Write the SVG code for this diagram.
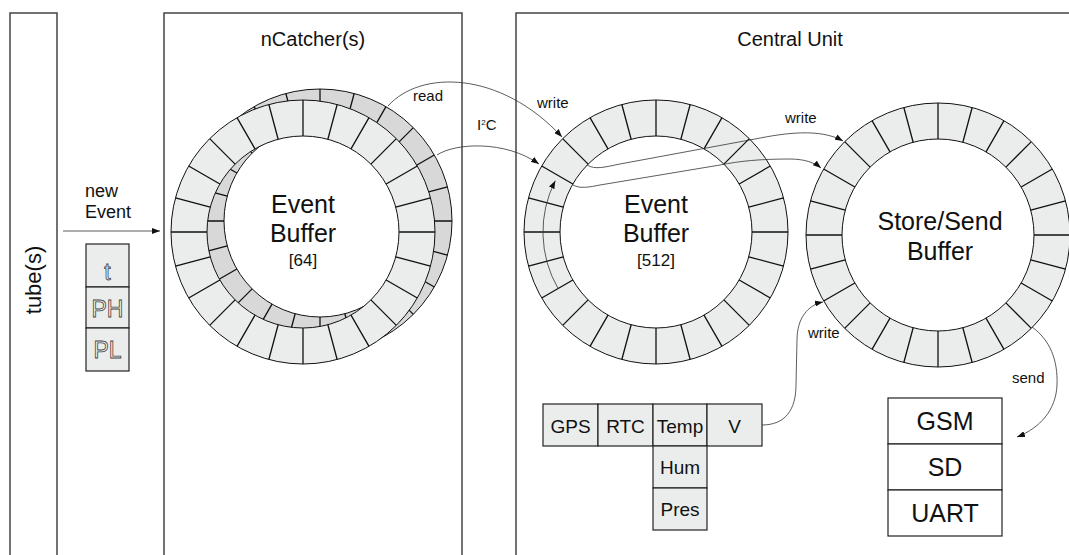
<svg xmlns="http://www.w3.org/2000/svg" xmlns:xlink="http://www.w3.org/1999/xlink" width="1069" height="555" viewBox="0 0 1069 555">
<style>
text{font-family:"Liberation Sans",Arial,sans-serif;fill:#111}
.panel{fill:none;stroke:#444;stroke-width:1.5}
.title{font-size:20px;text-anchor:middle}
.big{font-size:25px;text-anchor:middle}
.idx{font-size:17px;text-anchor:middle}
.lbl{font-size:15px}
.cell{fill:#ebedec;stroke:#222;stroke-width:1.2}
.box{fill:#fff;stroke:#222;stroke-width:1.2}
.sens{font-size:19px;text-anchor:middle}
.out{font-size:25px;text-anchor:middle}
.hollow{font-size:23px;text-anchor:middle;fill:#f4f4f4;stroke:#444;stroke-width:0.8}
.con{fill:none;stroke:#333;stroke-width:0.8}
</style>
<defs>
<marker id="ah" viewBox="0 0 8 6" refX="8" refY="3" markerWidth="8" markerHeight="6" markerUnits="userSpaceOnUse" orient="auto">
<path d="M0,0L8,3L0,6z" fill="#111"/>
</marker>
<g id="ring">
<path d="M132,0A132,132 0 1 0 -132,0A132,132 0 1 0 132,0ZM96,0A96,96 0 1 1 -96,0A96,96 0 1 1 96,0Z" fill-rule="evenodd" stroke="#111" stroke-width="1"/>
<path fill="none" stroke="#111" stroke-width="1.3" d="M96,0L132,0M92.73,24.85L127.5,34.16M83.14,48L114.32,66M67.88,67.88L93.34,93.34M48,83.14L66,114.32M24.85,92.73L34.16,127.5M0,96L0,132M-24.85,92.73L-34.16,127.5M-48,83.14L-66,114.32M-67.88,67.88L-93.34,93.34M-83.14,48L-114.32,66M-92.73,24.85L-127.5,34.16M-96,0L-132,0M-92.73,-24.85L-127.5,-34.16M-83.14,-48L-114.32,-66M-67.88,-67.88L-93.34,-93.34M-48,-83.14L-66,-114.32M-24.85,-92.73L-34.16,-127.5M0,-96L0,-132M24.85,-92.73L34.16,-127.5M48,-83.14L66,-114.32M67.88,-67.88L93.34,-93.34M83.14,-48L114.32,-66M92.73,-24.85L127.5,-34.16"/>
</g>
</defs>

<g id="tube">
<path class="panel" d="M10,560V13H57V560"/>
<text transform="translate(41,280) rotate(-90)" style="font-size:22px;text-anchor:middle">tube(s)</text>
</g>

<g id="ncatcher">
<path class="panel" d="M164,560V13H462V560"/>
<text class="title" x="313" y="46">nCatcher(s)</text>
</g>

<g id="central-unit">
<path class="panel" d="M516,560V13H1075"/>
<text class="title" x="790" y="46">Central Unit</text>
</g>

<g id="new-event">
<text class="lbl" style="font-size:18px" x="85" y="197">new</text>
<text class="lbl" style="font-size:18px" x="85" y="218">Event</text>
<rect class="cell" x="86" y="244" width="43" height="43"/>
<rect class="cell" x="86" y="287" width="43" height="41"/>
<rect class="cell" x="86" y="328" width="43" height="43"/>
<text class="hollow" x="107.5" y="280">t</text>
<text class="hollow" x="107.5" y="317">PH</text>
<text class="hollow" x="107.5" y="358">PL</text>
</g>

<g id="ncatcher-buffer">
<use xlink:href="#ring" href="#ring" transform="translate(320,221)" fill="#d8d8d8"/>
<use xlink:href="#ring" href="#ring" transform="translate(303,232)" fill="#ebedec"/>
<text class="big" x="303" y="213">Event</text>
<text class="big" x="303" y="242">Buffer</text>
<text class="idx" x="303" y="266">[64]</text>
</g>

<g id="event-buffer">
<use xlink:href="#ring" href="#ring" transform="translate(656,232)" fill="#ebedec"/>
<text class="big" x="656" y="213">Event</text>
<text class="big" x="656" y="242">Buffer</text>
<text class="idx" x="656" y="266">[512]</text>
</g>

<g id="store-send-buffer">
<use xlink:href="#ring" href="#ring" transform="translate(938,235)" fill="#ebedec"/>
<text class="big" x="940" y="230">Store/Send</text>
<text class="big" x="940" y="260">Buffer</text>
</g>

<g id="sensors">
<rect class="cell" x="543" y="404" width="55" height="42"/>
<rect class="cell" x="598" y="404" width="55" height="42"/>
<rect class="cell" x="653" y="404" width="54" height="42"/>
<rect class="cell" x="707" y="404" width="55" height="42"/>
<rect class="cell" x="653" y="446" width="54" height="42"/>
<rect class="cell" x="653" y="488" width="54" height="42"/>
<text class="sens" x="570.5" y="433">GPS</text>
<text class="sens" x="625.5" y="433">RTC</text>
<text class="sens" x="680" y="433">Temp</text>
<text class="sens" x="734.5" y="433">V</text>
<text class="sens" x="680" y="474">Hum</text>
<text class="sens" x="680" y="516">Pres</text>
</g>

<g id="outputs">
<rect class="box" x="888" y="398" width="114" height="46"/>
<rect class="box" x="888" y="444" width="114" height="46"/>
<rect class="box" x="888" y="490" width="114" height="46"/>
<text class="out" x="945" y="430">GSM</text>
<text class="out" x="945" y="476">SD</text>
<text class="out" x="945" y="522">UART</text>
</g>

<g id="connectors">
<path class="con" d="M63,231H160" marker-end="url(#ah)"/>
<path class="con" d="M388,106C420,70 500,70 562,137" marker-end="url(#ah)"/>
<path class="con" d="M437,155C455,143 505,140 539,164" marker-end="url(#ah)"/>
<path class="con" d="M558.1,288.5A113,113 0 0 1 555.3,180.7" marker-end="url(#ah)"/>
<path class="con" d="M587,165C595,170 605,167 620,164L755,139C785,133 820,128 843,141" marker-end="url(#ah)"/>
<path class="con" d="M573,185C580,189 590,187 600,185L720,165C740,161 760,159 790,159C805,159 815,163 821,168" marker-end="url(#ah)"/>
<path class="con" d="M762,425C785,425 796,410 796,385L797,340C797,318 808,305 823,302" marker-end="url(#ah)"/>
<path class="con" d="M1032,327C1050,340 1058,360 1057,385C1056,410 1040,428 1017,437" marker-end="url(#ah)"/>
<text class="lbl" x="413" y="101">read</text>
<text class="lbl" x="537" y="108">write</text>
<text class="lbl" x="477" y="130">I<tspan dy="-5" style="font-size:8px">2</tspan><tspan dy="5">C</tspan></text>
<text class="lbl" x="785" y="123">write</text>
<text class="lbl" x="808" y="338">write</text>
<text class="lbl" x="1012" y="383">send</text>
</g>
</svg>
